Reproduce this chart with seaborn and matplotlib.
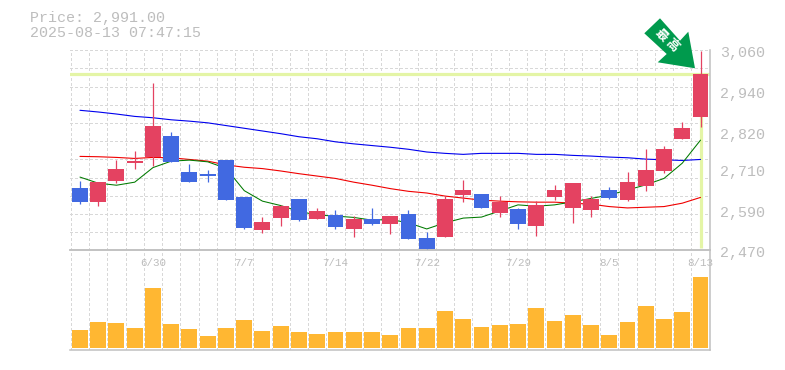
import matplotlib
matplotlib.use("Agg")
import matplotlib.pyplot as plt
import numpy as np
import pandas as pd
import seaborn as sns
from matplotlib.patches import Polygon
from matplotlib.transforms import IdentityTransform

W, H = 785, 370

opens = [2654, 2612, 2674, 2728, 2744, 2807, 2701, 2695, 2736, 2627, 2530, 2565,
         2621, 2562, 2574, 2533, 2562, 2548, 2577, 2506, 2509, 2633, 2636, 2580,
         2592, 2542, 2627, 2595, 2589, 2648, 2618, 2660, 2704, 2798, 2863]
closes = [2612, 2671, 2710, 2733, 2837, 2730, 2671, 2689, 2618, 2536, 2553, 2601,
          2559, 2586, 2539, 2562, 2548, 2571, 2503, 2474, 2621, 2648, 2595, 2612,
          2548, 2604, 2648, 2669, 2621, 2624, 2671, 2707, 2769, 2831, 2991]
highs = [2674, 2671, 2736, 2763, 2964, 2819, 2725, 2707, 2736, 2627, 2568, 2604,
         2621, 2595, 2589, 2571, 2595, 2571, 2589, 2524, 2630, 2677, 2636, 2630,
         2595, 2615, 2663, 2669, 2630, 2657, 2701, 2769, 2778, 2848, 3058]
lows = [2607, 2602, 2668, 2710, 2719, 2730, 2671, 2671, 2618, 2533, 2521, 2542,
        2556, 2562, 2533, 2509, 2545, 2518, 2503, 2468, 2509, 2612, 2595, 2568,
        2533, 2512, 2618, 2550, 2568, 2621, 2615, 2645, 2698, 2798, 2834]

ma_short = [2686, 2668, 2662, 2671, 2714, 2733, 2736, 2731, 2712, 2646, 2615, 2602,
            2585, 2574, 2571, 2567, 2559, 2561, 2551, 2533, 2551, 2565, 2568, 2586,
            2604, 2600, 2604, 2613, 2623, 2633, 2648, 2663, 2682, 2727, 2795]
ma_mid = [2747, 2746, 2744, 2741, 2744, 2743, 2738, 2733, 2722, 2715, 2711, 2704,
          2696, 2689, 2682, 2671, 2662, 2652, 2644, 2639, 2630, 2624, 2618, 2615,
          2613, 2612, 2612, 2609, 2606, 2599, 2595, 2597, 2599, 2609, 2626]
ma_long = [2883, 2878, 2872, 2865, 2861, 2855, 2851, 2846, 2838, 2830, 2822, 2814,
           2805, 2799, 2790, 2784, 2779, 2774, 2768, 2760, 2756, 2753, 2756, 2756,
           2756, 2753, 2753, 2750, 2748, 2745, 2743, 2739, 2737, 2735, 2738]

volumes = [18, 26, 25, 20, 60, 24, 19, 12, 20, 28, 17, 22, 16, 14, 16, 16, 16, 13,
           20, 20, 37, 29, 21, 23, 24, 40, 27, 33, 23, 13, 26, 42, 29, 36, 71]

date_pos = [4, 9, 14, 19, 24, 29, 34]
date_labels = ["6/30", "7/7", "7/14", "7/22", "7/29", "8/5", "8/13"]
price_ticks = [3060, 2940, 2820, 2710, 2590, 2470]
price_labels = ["3,060", "2,940", "2,820", "2,710", "2,590", "2,470"]
last_price = 2991

UP = "#e44261"
DOWN = "#4169e1"
GRID = "#d8d8d8"
FRAME = "#c0c0c0"
TEXT = "#bdbdbd"
HILITE = "#e4f5a6"
FONT = "Liberation Mono"

sns.set_style("white")
plt.rcParams["font.family"] = [FONT, "Noto Sans CJK JP", "DejaVu Sans"]

df = pd.DataFrame({"i": np.arange(len(opens)), "open": opens, "close": closes,
                   "high": highs, "low": lows, "short": ma_short, "mid": ma_mid,
                   "long": ma_long, "volume": volumes})
df["color"] = np.where(df["close"] >= df["open"], UP, DOWN)

fig = plt.figure(figsize=(W / 100, H / 100), dpi=100)
left, right = 70.3, 710
ax = fig.add_axes([left / W, 1 - 250.3 / H, (right - left) / W, 200 / H])
axv = fig.add_axes([left / W, 1 - 350 / H, (right - left) / W, 99.7 / H], sharex=ax)

xlim = (-0.53, 34.52)
ax.set_xlim(xlim)
ax.set_ylim(2470, 3060)
axv.set_ylim(-2, 97.7)

# grid sits between the candles
edges = np.arange(35) - 0.5
for a in (ax, axv):
    for x in edges:
        a.axvline(x, color=GRID, lw=0.7, ls=(0, (3, 3)), zorder=0, antialiased=False)
for y in np.linspace(2470, 3060, 12)[1:]:
    ax.axhline(y, color=GRID, lw=0.7, ls=(0, (3, 3)), zorder=0, antialiased=False)

ax.axhline(last_price, color=HILITE, lw=2.3, zorder=1)
ax.vlines(df["i"].iloc[-1], 2476, last_price, color=HILITE, lw=2.3, zorder=1)

sns.lineplot(data=df, x="i", y="long", color="#0000ee", lw=0.8, ax=ax, zorder=2)
sns.lineplot(data=df, x="i", y="mid", color="#f00000", lw=0.8, ax=ax, zorder=2)
sns.lineplot(data=df, x="i", y="short", color="#007a00", lw=0.75, ax=ax, zorder=2)

ax.vlines(df["i"], df["low"], df["high"], colors=df["color"], lw=0.9, zorder=3)
ax.bar(df["i"], df["close"] - df["open"], bottom=df["open"], width=0.875,
       color=df["color"], linewidth=0, zorder=4)

sns.barplot(data=df, x="i", y="volume", native_scale=True, color="#ffb732",
            saturation=1, width=0.875, linewidth=0, ax=axv, zorder=2)
axv.set_xlim(xlim)
axv.set_ylim(-2, 97.7)

for a in (ax, axv):
    a.set_xlabel("")
    a.set_ylabel("")
    a.set_yticks([])
    a.set_xticks([])
    a.patch.set_alpha(0)
    for side in ("top", "left"):
        a.spines[side].set_visible(False)
    for side in ("right", "bottom"):
        a.spines[side].set_color(FRAME)
        a.spines[side].set_linewidth(1.1)
axv.spines["top"].set_visible(True)
axv.spines["top"].set_color(FRAME)
axv.spines["top"].set_linewidth(1.1)

for p, lab in zip(price_ticks, price_labels):
    ax.annotate(lab, (1, p), xycoords=("axes fraction", "data"), xytext=(10, -3),
                textcoords="offset pixels", color=TEXT, fontsize=10.8,
                ha="left", va="center", annotation_clip=False)
for x, lab in zip(date_pos, date_labels):
    axv.annotate(lab, (x, 1), xycoords=("data", "axes fraction"), xytext=(0, -12.5),
                 textcoords="offset pixels", color=TEXT, fontsize=7.8,
                 ha="center", va="center", annotation_clip=False)

fig.text(30 / W, 1 - 18 / H, "Price: 2,991.00", color=TEXT, fontsize=10.8, va="center")
fig.text(30 / W, 1 - 33 / H, "2025-08-13 07:47:15", color=TEXT, fontsize=10.8, va="center")

# arrow badge pointing at the new high
badge = [(660, 18.3), (644.3, 33.3), (666.7, 54), (657.7, 62.3), (695, 68.3),
         (688.3, 31.7), (680, 40.7)]
fig.add_artist(Polygon([(x, H - y) for x, y in badge], closed=True, facecolor="#009a4d",
                       edgecolor="none", transform=IdentityTransform(), zorder=5))
for ch, cx, cy in zip("最高", [660.7, 672.3], [35, 45.5]):
    fig.text(cx / W, 1 - cy / H, ch, color="white", fontsize=9, rotation=-45,
             ha="center", va="center", rotation_mode="anchor", fontweight="bold",
             family=["Noto Sans CJK JP", "DejaVu Sans"], zorder=6)

fig.savefig("out.png", dpi=100, facecolor="white")
